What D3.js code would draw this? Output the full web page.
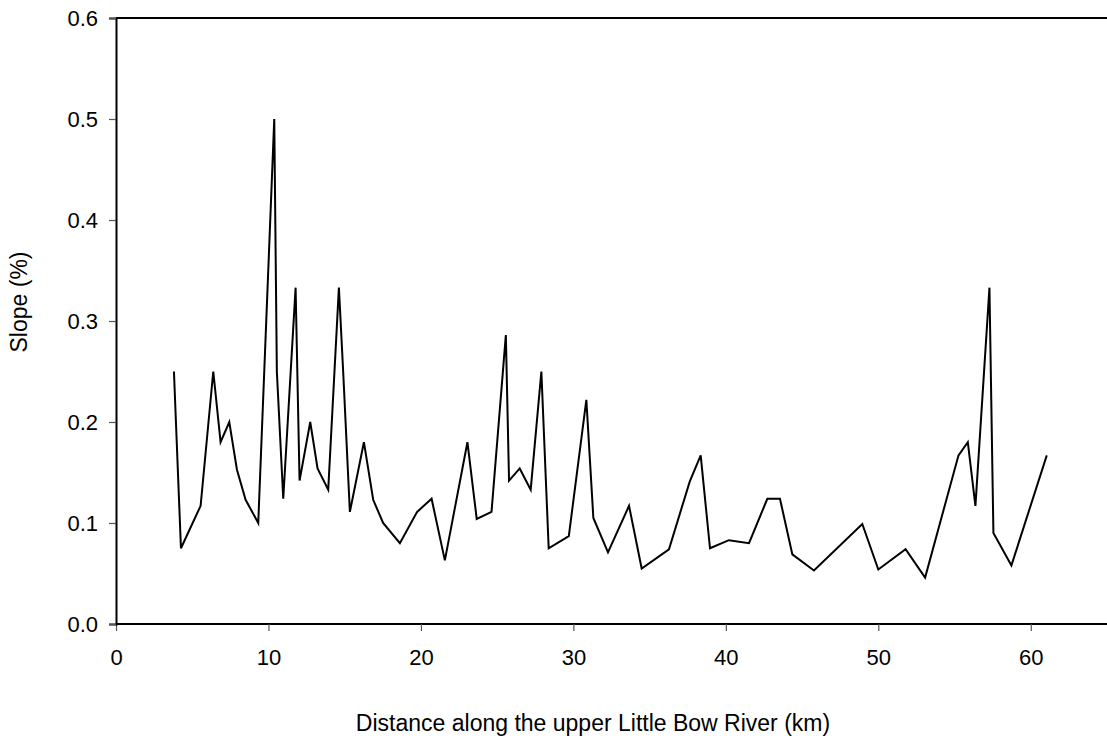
<!DOCTYPE html>
<html>
<head>
<meta charset="utf-8">
<script src="https://cdn.jsdelivr.net/npm/d3@7"></script>
<style>
  body { margin: 0; background: #fff; }
  svg { display: block; font-family: "Liberation Sans", Arial, sans-serif; }
</style>
</head>
<body>
<div id="chart"></div>
<script>
// distance along river (km) and channel slope (%)
const distance = [3.80, 4.26, 5.55, 6.38, 6.86, 7.43, 7.93, 8.50, 9.33, 10.38, 10.55, 10.97,
  11.78, 12.04, 12.74, 13.22, 13.92, 14.62, 14.90, 15.34, 16.26, 16.87, 17.52, 18.62,
  19.75, 20.70, 21.57, 23.05, 23.66, 24.63, 25.57, 25.78, 26.48, 27.20, 27.90, 28.38,
  29.70, 30.85, 31.31, 32.27, 33.65, 34.48, 36.27, 37.63, 38.35, 38.96, 40.20, 41.52,
  42.72, 43.55, 44.36, 45.78, 48.95, 50.00, 51.79, 53.07, 55.26, 55.87, 56.37, 57.29,
  57.55, 58.73, 61.05];
const slope = [0.25, 0.075, 0.117, 0.25, 0.18, 0.20, 0.153, 0.123, 0.10, 0.50, 0.25, 0.124,
  0.333, 0.142, 0.20, 0.154, 0.133, 0.333, 0.25, 0.111, 0.18, 0.123, 0.10, 0.08,
  0.111, 0.124, 0.063, 0.18, 0.104, 0.111, 0.286, 0.142, 0.154, 0.133, 0.25, 0.075,
  0.087, 0.222, 0.105, 0.071, 0.117, 0.055, 0.074, 0.141, 0.167, 0.075, 0.083, 0.08,
  0.124, 0.124, 0.069, 0.053, 0.099, 0.054, 0.074, 0.046, 0.167, 0.18, 0.117, 0.333,
  0.09, 0.058, 0.167];
const xTicks = [0, 10, 20, 30, 40, 50, 60];
const yTicks = [0, 0.1, 0.2, 0.3, 0.4, 0.5, 0.6];

const width = 1107, height = 742;
const margin = { top: 18, right: 0, bottom: 118, left: 116 };

const data = distance.map((d, i) => ({ x: d, y: slope[i] }));

const svg = d3.select("#chart").append("svg")
  .attr("width", width)
  .attr("height", height);

const x = d3.scaleLinear().domain([0, 65]).range([margin.left, width - margin.right]);
const y = d3.scaleLinear().domain([0, 0.6]).range([height - margin.bottom, margin.top]);

// frame (top edge of plot area)
svg.append("line")
  .attr("x1", margin.left).attr("x2", width)
  .attr("y1", margin.top).attr("y2", margin.top)
  .attr("stroke", "#000").attr("stroke-width", 2);

const xAxis = svg.append("g")
  .attr("transform", `translate(0,${height - margin.bottom})`)
  .call(d3.axisBottom(x).tickValues(xTicks).tickSize(7).tickPadding(18).tickFormat(d3.format("d")));

const yAxis = svg.append("g")
  .attr("transform", `translate(${margin.left},0)`)
  .call(d3.axisLeft(y).tickValues(yTicks).tickSize(7).tickPadding(11).tickFormat(d3.format(".1f")));

[xAxis, yAxis].forEach(g => {
  g.select(".domain").attr("stroke", "#000").attr("stroke-width", 2);
  g.selectAll(".tick line").attr("stroke", "#555").attr("stroke-width", 1.2);
  g.selectAll(".tick text").attr("fill", "#000").style("font-size", "22px")
    .style("font-family", "'Liberation Sans', Arial, sans-serif");
});
xAxis.select(".domain").attr("d", `M${margin.left},0H${width}`);

// series
const line = d3.line().x(d => x(d.x)).y(d => y(d.y));
svg.append("path")
  .datum(data)
  .attr("d", line)
  .attr("fill", "none")
  .attr("stroke", "#000")
  .attr("stroke-width", 2)
  .attr("stroke-linejoin", "miter");

// axis titles
svg.append("text")
  .attr("x", 593).attr("y", 731)
  .attr("text-anchor", "middle")
  .style("font-size", "23px")
  .text("Distance along the upper Little Bow River (km)");

svg.append("text")
  .attr("transform", "translate(27,302) rotate(-90)")
  .attr("text-anchor", "middle")
  .style("font-size", "23px")
  .text("Slope (%)");
</script>
</body>
</html>
